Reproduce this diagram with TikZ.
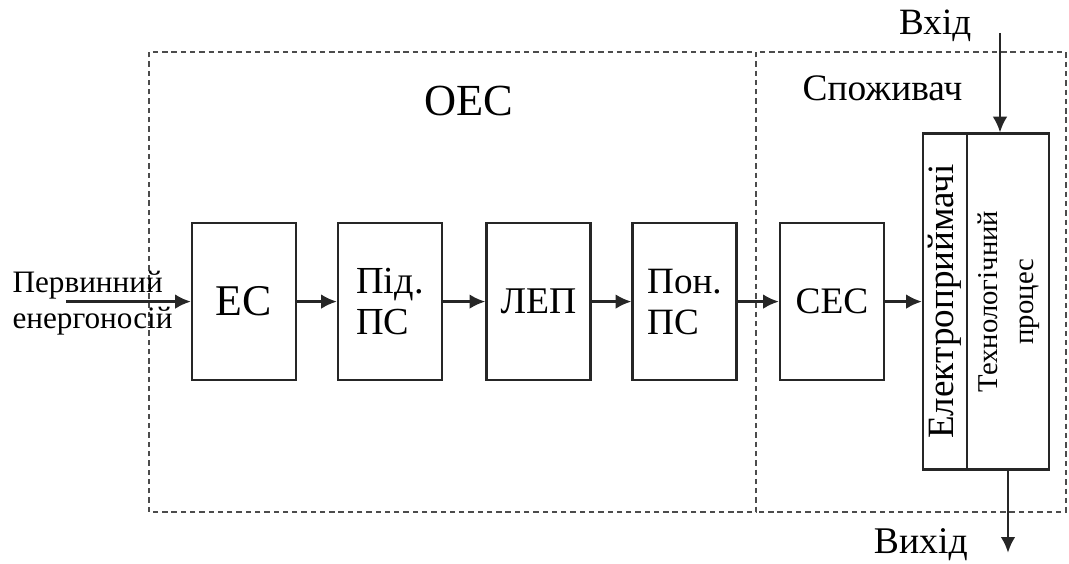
\documentclass[tikz,border=0pt]{standalone}
\usepackage{fontspec}
\setmainfont{Liberation Serif}
\usepackage{graphicx}
\usetikzlibrary{arrows.meta}

\newcommand{\shrift}[2]{\fontsize{#1}{#2}\selectfont}

\tikzset{
  blok/.style={draw=black!85, line width=0.8pt, minimum width=1.3cm,
    minimum height=1.96cm, inner sep=1pt, align=left},
  ramka/.style={draw=black!70, line width=0.7pt, dash pattern=on 1.9pt off 1.4pt},
  strilka/.style={->, black!85, line width=0.85pt}
}

\begin{document}
\begin{tikzpicture}[>={Latex[length=5.6pt,width=5.2pt]}]
    \useasboundingbox (0,0) rectangle (13.3625,7.05);

    % 1. Hai khung nét đứt: ОЕС và Споживач
    \draw[ramka] (1.8625,0.65) rectangle (9.45,6.4);
    \draw[ramka] (9.45,0.65) rectangle (13.32,6.4);
    \node[anchor=base, font=\shrift{15.8}{18}] (oes) at (5.86,5.6) {ОЕС};
    \node[anchor=base west, font=\shrift{13.3}{15}] (spozhyvach) at (9.91,5.79) {Споживач};

    % 2. Các khối chính trên cùng một hàng
    \node[blok, font=\shrift{15.6}{18}] (ES) at (3.05,3.28) {ЕС};
    \node[blok, font=\shrift{13.6}{14.6}] (PidPS) at (4.875,3.28) {Під.\\ПС};
    \node[blok, font=\shrift{13.4}{16}] (LEP) at (6.73,3.28) {ЛЕП};
    \node[blok, font=\shrift{13.2}{14.6}] (PonPS) at (8.556,3.28) {Пон.\\ПС};
    \node[blok, font=\shrift{13.3}{15}] (SES) at (10.4,3.28) {СЕС};

    % 3. Khối cao: hai cột chữ xoay dọc
    \node[blok, minimum width=0.55cm, minimum height=4.2cm, inner sep=0pt,
      font=\shrift{13.2}{16}] (EP) at (11.8125,3.28) {\rotatebox{90}{Електроприймачі}};
    \node[blok, minimum width=1.025cm, minimum height=4.2cm, inner sep=0pt,
      font=\shrift{10.2}{12.8}] (TP) at (12.6,3.28)
      {\rotatebox{90}{\begin{tabular}{@{}c@{}}Технологічний\\процес\end{tabular}}};

    % 4. Mũi tên nối các khối
    \node[anchor=west, inner sep=0pt, align=left, font=\shrift{11.1}{12.8}] (pervynnyi)
      at (0.15,3.26) {Первинний\\енергоносій};
    \coordinate (vkhid) at (0.825,3.28);
    \draw[strilka] (vkhid) -- (ES);
    \draw[strilka] (ES) -- (PidPS);
    \draw[strilka] (PidPS) -- (LEP);
    \draw[strilka] (LEP) -- (PonPS);
    \draw[strilka] (PonPS) -- (SES);
    \draw[strilka] (SES) -- (EP);

    % 5. Вхід ở trên, Вихід ở dưới
    \node[anchor=base, font=\shrift{13.2}{15}] (vkhidtxt) at (11.69,6.6125) {Вхід};
    \coordinate (vkhidtop) at (12.5,6.64);
    \draw[strilka] (vkhidtop) -- (vkhidtop |- TP.north);
    \node[anchor=base, font=\shrift{13.4}{15}] (vykhidtxt) at (11.51,0.125) {Вихід};
    \coordinate (vykhid) at (12.6,0.14);
    \draw[strilka] (TP) -- (vykhid);

\end{tikzpicture}
\end{document}
